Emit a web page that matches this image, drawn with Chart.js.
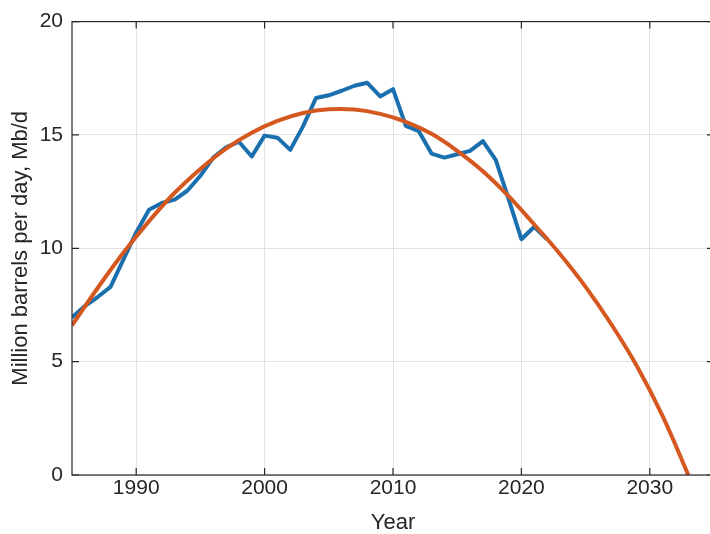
<!DOCTYPE html>
<html>
<head>
<meta charset="utf-8">
<script src="https://cdn.jsdelivr.net/npm/chart.js@4.4.1/dist/chart.umd.min.js"></script>
<style>
  html, body { margin: 0; padding: 0; background: #fff; overflow: hidden; }
  #wrap { width: 710px; height: 534px; overflow: hidden; }
  canvas { display: block; }
</style>
</head>
<body>
<div id="wrap"><canvas id="chart" width="716" height="534" style="width:716px;height:534px"></canvas></div>
<script>
// production, Mb/d
const prodYears = [1985, 1986, 1987, 1988, 1989, 1990, 1991, 1992, 1993, 1994, 1995, 1996, 1997,
  1998, 1999, 2000, 2001, 2002, 2003, 2004, 2005, 2006, 2007, 2008, 2009, 2010, 2011,
  2012, 2013, 2014, 2015, 2016, 2017, 2018, 2019, 2020, 2021, 2022];
const prodValues = [6.95, 7.45, 7.85, 8.3, 9.5, 10.7, 11.7, 12.0, 12.15, 12.55, 13.2, 14.0, 14.45,
  14.7, 14.05, 14.97, 14.88, 14.34, 15.39, 16.63, 16.75, 16.95, 17.17, 17.3, 16.7, 17.02, 15.4,
  15.17, 14.18, 14.0, 14.15, 14.3, 14.73, 13.9, 12.18, 10.4, 10.95, 10.4];

// fitted curve
const fitYears = [1985, 1987, 1989, 1991, 1993, 1995, 1997, 1999, 2001, 2003, 2005, 2007,
  2009, 2011, 2013, 2015, 2017, 2019, 2021, 2023, 2025, 2027, 2029, 2031, 2033];
const fitValues = [6.6, 8.25, 9.8, 11.2, 12.45, 13.5, 14.4, 15.1, 15.62, 15.97, 16.13, 16.12,
  15.93, 15.58, 15.05, 14.3, 13.4, 12.3, 11.05, 9.75, 8.3, 6.65, 4.8, 2.6, 0];

const xTicks = [1990, 2000, 2010, 2020, 2030];
const yTicks = [0, 5, 10, 15, 20];

const toPoints = (xs, ys) => xs.map((x, i) => ({ x: x, y: ys[i] }));

const axisColor = '#262626';
const tickFont = { family: 'Liberation Sans, Arial, Helvetica, sans-serif', size: 21 };
const titleFont = { family: 'Liberation Sans, Arial, Helvetica, sans-serif', size: 22, lineHeight: 1 };

// matlab style box with inward ticks
const boxPlugin = {
  id: 'box',
  afterDraw(chart) {
    const { ctx, chartArea: a, scales } = chart;
    const len = 7;
    ctx.save();
    ctx.strokeStyle = axisColor;
    ctx.lineWidth = 1.2;
    ctx.strokeRect(a.left, a.top, a.right - a.left, a.bottom - a.top);
    ctx.beginPath();
    scales.x.ticks.forEach(t => {
      const px = scales.x.getPixelForValue(t.value);
      ctx.moveTo(px, a.bottom); ctx.lineTo(px, a.bottom - len);
      ctx.moveTo(px, a.top); ctx.lineTo(px, a.top + len);
    });
    scales.y.ticks.forEach(t => {
      const py = scales.y.getPixelForValue(t.value);
      ctx.moveTo(a.left, py); ctx.lineTo(a.left + len, py);
      ctx.moveTo(a.right, py); ctx.lineTo(a.right - len, py);
    });
    ctx.stroke();
    ctx.restore();
  }
};

new Chart(document.getElementById('chart'), {
  type: 'line',
  data: {
    datasets: [
      {
        label: 'Fit',
        data: toPoints(fitYears, fitValues),
        borderColor: '#d4581f',
        borderWidth: 4,
        pointRadius: 0,
        tension: 0.4,
        order: 0
      },
      {
        label: 'Production',
        data: toPoints(prodYears, prodValues),
        borderColor: '#1a6fae',
        borderWidth: 4,
        pointRadius: 0,
        tension: 0,
        borderJoinStyle: 'round',
        order: 1
      }
    ]
  },
  options: {
    responsive: false,
    animation: false,
    layout: { padding: { top: 18, right: 2, bottom: 0, left: 0 } },
    plugins: { legend: { display: false }, tooltip: { enabled: false } },
    scales: {
      x: {
        type: 'linear',
        min: 1985,
        max: 2035,
        afterBuildTicks: s => { s.ticks = xTicks.map(v => ({ value: v })); },
        afterFit: s => { s.height = 59; },
        grid: { color: '#e2e2e2', lineWidth: 1, drawTicks: false },
        border: { display: false },
        ticks: { color: axisColor, font: tickFont, padding: 1, maxRotation: 0, callback: v => String(v) },
        title: { display: true, text: 'Year', color: axisColor, font: titleFont, padding: { top: 0, bottom: 0 } }
      },
      y: {
        min: 0,
        max: 20,
        afterBuildTicks: s => { s.ticks = yTicks.map(v => ({ value: v })); },
        afterFit: s => { s.width = 72; },
        grid: { color: '#e2e2e2', lineWidth: 1, drawTicks: false },
        border: { display: false },
        ticks: { color: axisColor, font: tickFont, padding: 9, callback: v => String(v) },
        title: { display: true, text: 'Million barrels per day, Mb/d', color: axisColor, font: titleFont, padding: { top: 10, bottom: 0 } }
      }
    }
  },
  plugins: [boxPlugin]
});
</script>
</body>
</html>
